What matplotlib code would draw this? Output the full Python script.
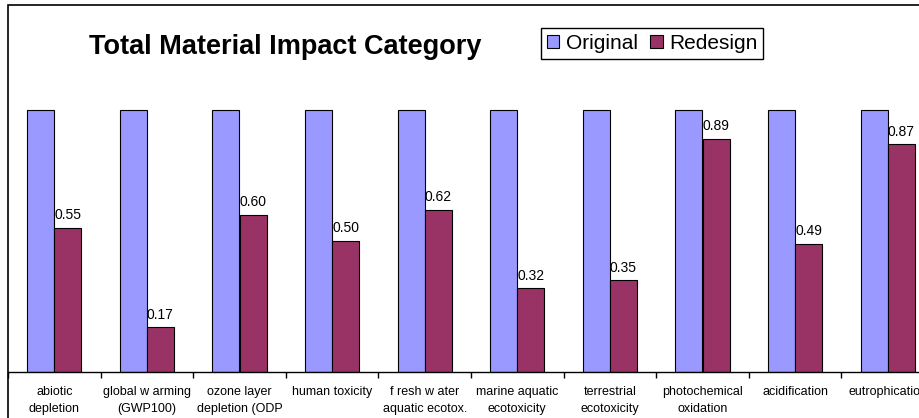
import matplotlib
matplotlib.use("Agg")
import matplotlib.pyplot as plt
from matplotlib.patches import Rectangle, Patch
import numpy as np

plt.rcParams['font.family'] = ['Liberation Sans', 'DejaVu Sans']

categories = [
    "abiotic\ndepletion",
    "global w arming\n(GWP100)",
    "ozone layer\ndepletion (ODP",
    "human toxicity\n ",
    "f resh w ater\naquatic ecotox.",
    "marine aquatic\necotoxicity",
    "terrestrial\necotoxicity",
    "photochemical\noxidation",
    "acidification\n ",
    "eutrophication\n ",
]
original = [1.0] * 10
redesign = [0.55, 0.17, 0.60, 0.50, 0.62, 0.32, 0.35, 0.89, 0.49, 0.87]

W, H = 920, 418
fig = plt.figure(figsize=(W / 100, H / 100), dpi=100)

# plot area: left edge at x=8, baseline at y=372, value 1.0 at y=110
cat_w = 92.6
px_per_unit = 262
ymax = 1.2
ax = fig.add_axes([8 / W, (H - 372) / H, 10 * cat_w / W, ymax * px_per_unit / H])

x = np.arange(len(categories)) + 0.5
bw = 27 / cat_w
ax.bar(x - bw / 2, original, bw, color="#9999FF", edgecolor="black", linewidth=0.8, zorder=2)
ax.bar(x + bw / 2, redesign, bw, color="#993366", edgecolor="black", linewidth=0.8, zorder=2)

for xi, v in zip(x + bw / 2, redesign):
    ax.annotate(f"{v:.2f}", (xi, v), xytext=(0, 4), textcoords="offset points",
                ha="center", va="bottom", fontsize=10, zorder=3)

ax.set_xlim(0, 10)
ax.set_ylim(0, ymax)
for s in ["top", "right", "left"]:
    ax.spines[s].set_visible(False)
ax.spines["bottom"].set_linewidth(1)
ax.set_yticks([])

ax.set_xticks(x)
ax.set_xticklabels(categories, fontsize=9, linespacing=1.6)
ax.tick_params(axis="x", which="major", length=0, pad=10)
ax.set_xticks(np.arange(0, 11), minor=True)
ax.tick_params(axis="x", which="minor", length=4, width=1, direction="out")

# chart frame (cropped at right and bottom)
fig.patches.append(Rectangle((8 / W, -0.1), 2, (H - 5) / H + 0.1,
                             transform=fig.transFigure, fill=False,
                             edgecolor="black", linewidth=1.2, zorder=5))

fig.text(285 / W, 1 - 47 / H, "Total Material Impact Category",
         fontsize=19.5, fontweight="bold", ha="center", va="center")

handles = [Patch(facecolor="#9999FF", edgecolor="black", linewidth=0.8),
           Patch(facecolor="#993366", edgecolor="black", linewidth=0.8)]
leg = fig.legend(handles, ["Original", "Redesign"], ncol=2, fontsize=15,
                 loc="center", bbox_to_anchor=(652 / W, 1 - 43.5 / H),
                 handlelength=0.6, handleheight=0.6, handletextpad=0.3,
                 columnspacing=0.6, borderpad=0.3, fancybox=False, framealpha=1)
leg.get_frame().set_edgecolor("black")
leg.get_frame().set_linewidth(1)

fig.savefig("out.png", dpi=100)
